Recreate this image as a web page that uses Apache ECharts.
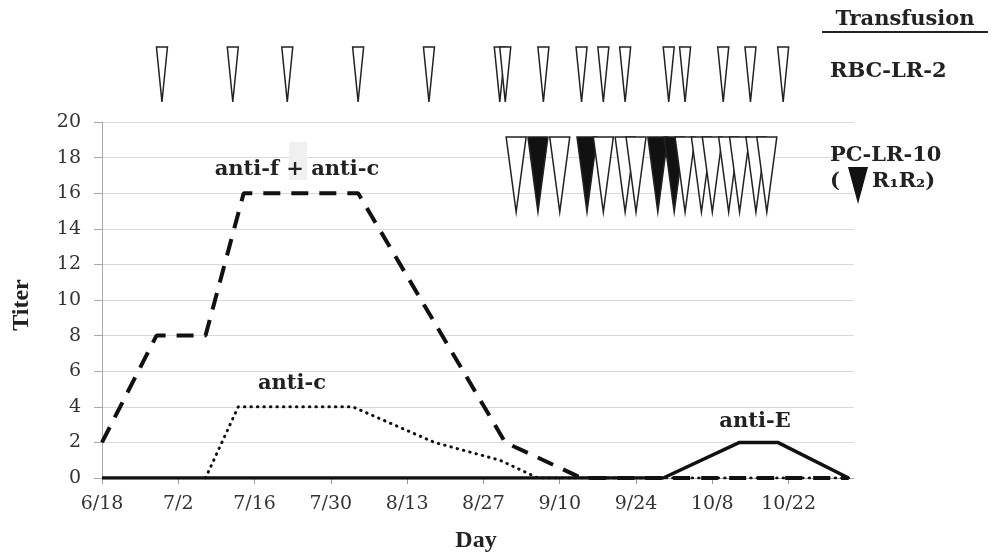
<!DOCTYPE html>
<html>
<head>
<meta charset="utf-8">
<script src="https://cdn.jsdelivr.net/npm/echarts@6/dist/echarts.min.js"></script>
<style>
  html, body { margin: 0; padding: 0; background: #fff; }
  #main { width: 994px; height: 553px; }
</style>
</head>
<body>
<div id="main"></div>
<script>
// x values are days counted from 6/18
var tickDays = [0, 14, 28, 42, 56, 70, 84, 98, 112, 126];
var tickLabels = ['6/18', '7/2', '7/16', '7/30', '8/13', '8/27', '9/10', '9/24', '10/8', '10/22'];

// anti-f + anti-c (dashed)
var antiFcDays = [0, 10, 19, 26, 47, 74, 88, 137];
var antiFcTiter = [2, 8, 8, 16, 16, 2, 0, 0];
// anti-c (dotted)
var antiCDays = [19, 25, 46, 61, 73, 80, 137];
var antiCTiter = [0, 4, 4, 2, 1, 0, 0];
// anti-E (solid)
var antiEDays = [0, 103, 117, 124, 137];
var antiETiter = [0, 0, 2, 2, 0];

// transfusions
var rbcDays = [11, 24, 34, 47, 60, 73, 74, 81, 88, 92, 96, 104, 107, 114, 119, 125];
var pcDays = [76, 80, 84, 89, 92, 96, 98, 102, 105, 107, 110, 112, 115, 117, 120, 122];
var pcR1R2 = [0, 1, 0, 1, 0, 0, 0, 1, 1, 0, 0, 0, 0, 0, 0, 0];

function pairs(xs, ys) {
    var out = [];
    for (var i = 0; i < xs.length; i++) {
        out.push([xs[i], ys[i]]);
    }
    return out;
}

// downward triangle centred on the data point
function triangleItem(w, h) {
    return function (params, api) {
        var p = api.coord([api.value(0), api.value(1)]);
        return {
            type: 'polygon',
            shape: {
                points: [[p[0] - w / 2, p[1] - h / 2], [p[0] + w / 2, p[1] - h / 2], [p[0], p[1] + h / 2]]
            },
            style: {
                fill: api.value(2) ? '#111' : '#fff',
                stroke: '#222',
                lineWidth: 1.5
            }
        };
    };
}

var serif = '"DejaVu Serif", "Liberation Serif", serif';
var labelFont = 'bold 21px ' + serif;

var myChart = echarts.init(document.getElementById('main'), null, { renderer: 'canvas' });

var option = {
    animation: false,
    backgroundColor: '#fff',
    grid: [
        { left: 102, right: 140, top: 122, bottom: 75 },      // titer plot
        { left: 102, right: 140, top: 74.5, bottom: 378.5 }   // transfusion rows
    ],
    xAxis: [
        {
            type: 'value', gridIndex: 0, min: 0, max: 138,
            axisLine: { lineStyle: { color: '#aaa' } },
            axisTick: { customValues: tickDays, length: 6, lineStyle: { color: '#999' } },
            axisLabel: {
                customValues: tickDays,
                margin: 17,
                color: '#333',
                fontFamily: serif,
                fontSize: 19,
                formatter: function (v) {
                    var i = tickDays.indexOf(v);
                    return i >= 0 ? tickLabels[i] : '';
                }
            },
            splitLine: { show: false }
        },
        {
            type: 'value', gridIndex: 1, min: 0, max: 138, show: false
        }
    ],
    yAxis: [
        {
            type: 'value', gridIndex: 0, min: 0, max: 20, interval: 2,
            axisLine: { show: true, lineStyle: { color: '#aaa' } },
            axisTick: { show: true, length: 8, lineStyle: { color: '#aaa' } },
            axisLabel: { margin: 21, color: '#333', fontFamily: serif, fontSize: 19 },
            splitLine: { lineStyle: { color: '#d9d9d9', width: 1 } }
        },
        {
            type: 'value', gridIndex: 1, min: 0, max: 1, show: false
        }
    ],
    graphic: [
        { type: 'rect', z: 5, shape: { x: 289, y: 142, width: 18, height: 38 }, style: { fill: '#f0f0f0' } },
        { type: 'text', z: 10, x: 297, y: 170, style: { text: 'anti-f + anti-c', font: labelFont, fill: '#222', align: 'center', verticalAlign: 'middle' } },
        { type: 'text', z: 10, x: 292, y: 384, style: { text: 'anti-c', font: labelFont, fill: '#222', align: 'center', verticalAlign: 'middle' } },
        { type: 'text', z: 10, x: 755, y: 422, style: { text: 'anti-E', font: labelFont, fill: '#222', align: 'center', verticalAlign: 'middle' } },
        { type: 'text', z: 10, x: 22, y: 305, rotation: Math.PI / 2, style: { text: 'Titer', font: 'bold 24px "Liberation Serif", serif', fill: '#222', align: 'center', verticalAlign: 'middle' } },
        { type: 'text', z: 10, x: 476, y: 541, style: { text: 'Day', font: 'bold 24px "Liberation Serif", serif', fill: '#222', align: 'center', verticalAlign: 'middle' } },
        { type: 'text', z: 10, x: 905, y: 20, style: { text: 'Transfusion', font: labelFont, fill: '#222', align: 'center', verticalAlign: 'middle' } },
        { type: 'line', z: 10, shape: { x1: 822, y1: 32, x2: 988, y2: 32 }, style: { stroke: '#222', lineWidth: 2 } },
        { type: 'text', z: 10, x: 830, y: 72, style: { text: 'RBC-LR-2', font: labelFont, fill: '#222', align: 'left', verticalAlign: 'middle' } },
        { type: 'text', z: 10, x: 830, y: 156, style: { text: 'PC-LR-10', font: labelFont, fill: '#222', align: 'left', verticalAlign: 'middle' } },
        { type: 'text', z: 10, x: 830, y: 182, style: { text: '(', font: labelFont, fill: '#222', align: 'left', verticalAlign: 'middle' } },
        { type: 'polygon', z: 10, shape: { points: [[848, 167], [868, 167], [858, 204]] }, style: { fill: '#111' } },
        { type: 'text', z: 10, x: 872, y: 182, style: { text: 'R₁R₂)', font: labelFont, fill: '#222', align: 'left', verticalAlign: 'middle' } }
    ],
    series: [
        {
            name: 'anti-f + anti-c',
            type: 'line', xAxisIndex: 0, yAxisIndex: 0,
            data: pairs(antiFcDays, antiFcTiter),
            symbol: 'none', z: 2,
            lineStyle: { color: '#111', width: 4, type: [17, 11] }
        },
        {
            name: 'anti-c',
            type: 'line', xAxisIndex: 0, yAxisIndex: 0,
            data: pairs(antiCDays, antiCTiter),
            symbol: 'none', z: 2,
            lineStyle: { color: '#111', width: 3, type: [0.5, 6], cap: 'round' }
        },
        {
            name: 'anti-E',
            type: 'line', xAxisIndex: 0, yAxisIndex: 0,
            data: pairs(antiEDays, antiETiter),
            symbol: 'none', z: 3,
            lineStyle: { color: '#111', width: 3.5 }
        },
        {
            name: 'RBC-LR-2',
            type: 'custom', coordinateSystem: 'cartesian2d', xAxisIndex: 1, yAxisIndex: 1,
            data: rbcDays.map(function (d) { return [d, 1, 0]; }),
            renderItem: triangleItem(11, 55)
        },
        {
            name: 'PC-LR-10',
            type: 'custom', coordinateSystem: 'cartesian2d', xAxisIndex: 1, yAxisIndex: 1, z: 6,
            data: pcDays.map(function (d, i) { return [d, 0, pcR1R2[i]]; }),
            renderItem: triangleItem(20, 75)
        }
    ]
};

myChart.setOption(option);
</script>
</body>
</html>
